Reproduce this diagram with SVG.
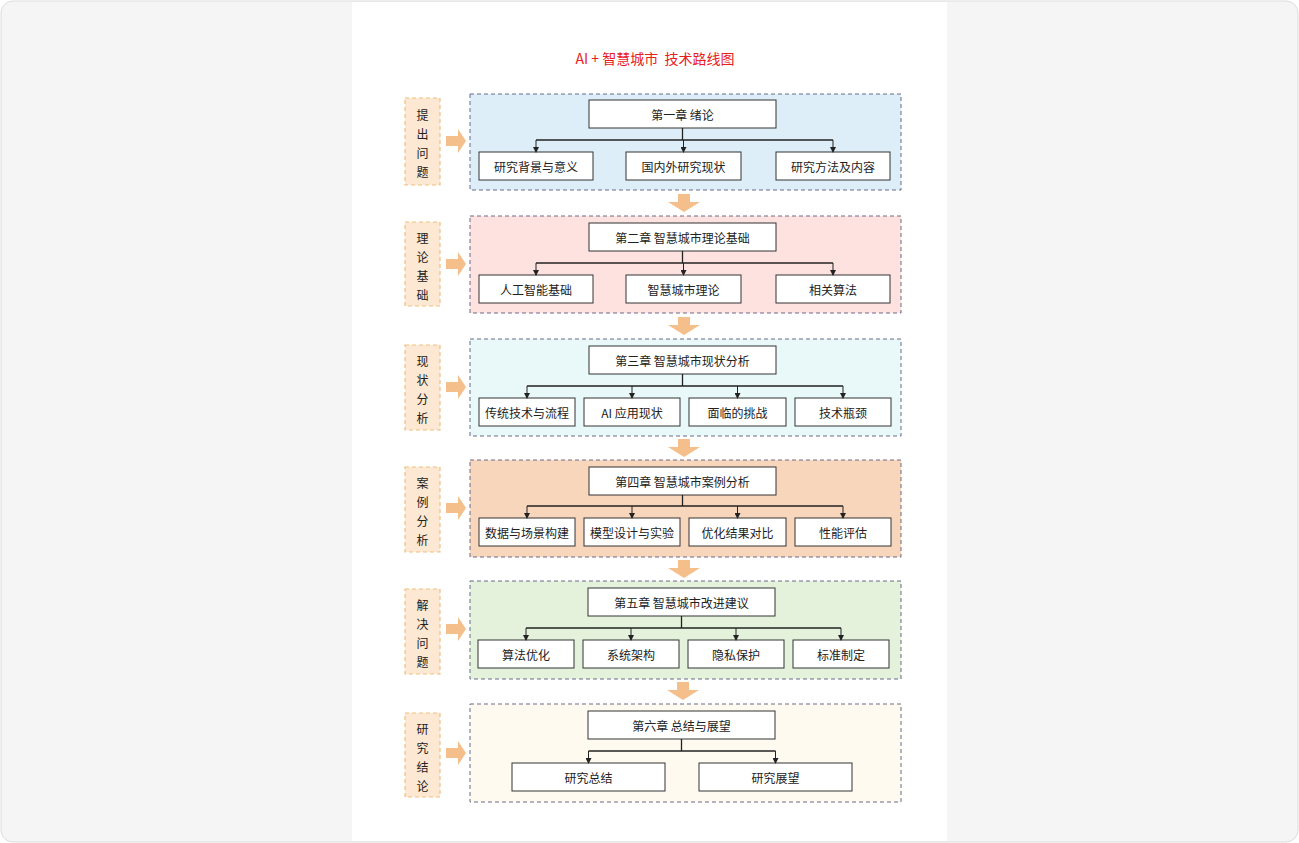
<svg xmlns="http://www.w3.org/2000/svg" width="1299" height="843" viewBox="0 0 1299 843">
<style>
text{font-family:"Noto Sans CJK SC","Liberation Sans",sans-serif;font-size:12px;fill:#222;text-anchor:middle;dominant-baseline:central}
.sec{stroke:#6a6a8a;stroke-dasharray:4 3;stroke-width:1}
.lab{fill:#fde9d3;stroke:#f0bf7f;stroke-dasharray:4 3;stroke-width:1.2}
.box{fill:#fff;stroke:#333;stroke-width:1}
.c{fill:none;stroke:#222;stroke-width:1;marker-end:url(#ah)}
.cl{fill:none;stroke:#222;stroke-width:1.3}
.arr{fill:#f5bf8b}
</style>
<defs><marker id="ah" markerWidth="6" markerHeight="6" refX="5" refY="3" orient="auto" markerUnits="userSpaceOnUse"><path d="M0,0L6,3L0,6z" fill="#222"/></marker></defs>
<rect x="1" y="1" width="1297" height="841" rx="12" fill="#f5f5f5" stroke="#ddd"/>
<rect x="352" y="2" width="595" height="839" fill="#fff"/>
<text x="655" y="58" style="fill:#e8201c;font-size:14px">AI + 智慧城市&#160; 技术路线图</text>

<g id="s1">
<rect x="470" y="94" width="431" height="96" fill="#ddeef9" class="sec"/>
<rect x="405" y="98" width="35" height="87" class="lab"/>
<text x="422.5" y="114">提</text><text x="422.5" y="133">出</text><text x="422.5" y="152">问</text><text x="422.5" y="171">题</text>
<path class="arr" d="M446,136h12v-7l8,12l-8,12v-7h-12z"/>
<rect x="589" y="100" width="187" height="28" class="box"/><text x="682.5" y="114">第一章 绪论</text>
<rect x="479" y="152" width="114" height="28" class="box"/><text x="536" y="166">研究背景与意义</text>
<rect x="626" y="152" width="115" height="28" class="box"/><text x="683.5" y="166">国内外研究现状</text>
<rect x="776" y="152" width="114" height="28" class="box"/><text x="833" y="166">研究方法及内容</text>
</g>
<g id="s2">
<rect x="470" y="216" width="431" height="97" fill="#fde2df" class="sec"/>
<rect x="405" y="222" width="35" height="84" class="lab"/>
<text x="422.5" y="237">理</text><text x="422.5" y="256">论</text><text x="422.5" y="275">基</text><text x="422.5" y="294">础</text>
<path class="arr" d="M446,259h12v-7l8,12l-8,12v-7h-12z"/>
<rect x="589" y="223" width="187" height="28" class="box"/><text x="682.5" y="237">第二章 智慧城市理论基础</text>
<rect x="479" y="275" width="114" height="28" class="box"/><text x="536" y="289">人工智能基础</text>
<rect x="626" y="275" width="115" height="28" class="box"/><text x="683.5" y="289">智慧城市理论</text>
<rect x="776" y="275" width="114" height="28" class="box"/><text x="833" y="289">相关算法</text>
</g>
<g id="s3">
<rect x="470" y="339" width="431" height="97" fill="#e9f8f8" class="sec"/>
<rect x="405" y="345" width="35" height="85" class="lab"/>
<text x="422.5" y="360">现</text><text x="422.5" y="379">状</text><text x="422.5" y="398">分</text><text x="422.5" y="417">析</text>
<path class="arr" d="M446,382h12v-7l8,12l-8,12v-7h-12z"/>
<rect x="589" y="346" width="187" height="28" class="box"/><text x="682.5" y="360">第三章 智慧城市现状分析</text>
<rect x="479" y="398" width="96" height="28" class="box"/><text x="527" y="412">传统技术与流程</text>
<rect x="584" y="398" width="96" height="28" class="box"/><text x="632" y="412">AI 应用现状</text>
<rect x="689" y="398" width="97" height="28" class="box"/><text x="737.5" y="412">面临的挑战</text>
<rect x="795" y="398" width="96" height="28" class="box"/><text x="843" y="412">技术瓶颈</text>
</g>
<g id="s4">
<rect x="470" y="460" width="431" height="97" fill="#f8d6bc" class="sec"/>
<rect x="405" y="467" width="35" height="85" class="lab"/>
<text x="422.5" y="482">案</text><text x="422.5" y="501">例</text><text x="422.5" y="520">分</text><text x="422.5" y="539">析</text>
<path class="arr" d="M446,503h12v-7l8,12l-8,12v-7h-12z"/>
<rect x="589" y="467" width="187" height="28" class="box"/><text x="682.5" y="481">第四章 智慧城市案例分析</text>
<rect x="479" y="518" width="96" height="28" class="box"/><text x="527" y="532">数据与场景构建</text>
<rect x="584" y="518" width="96" height="28" class="box"/><text x="632" y="532">模型设计与实验</text>
<rect x="689" y="518" width="97" height="28" class="box"/><text x="737.5" y="532">优化结果对比</text>
<rect x="795" y="518" width="96" height="28" class="box"/><text x="843" y="532">性能评估</text>
</g>
<g id="s5">
<rect x="470" y="581" width="431" height="98" fill="#e4f2dc" class="sec"/>
<rect x="405" y="589" width="35" height="85" class="lab"/>
<text x="422.5" y="604">解</text><text x="422.5" y="623">决</text><text x="422.5" y="642">问</text><text x="422.5" y="661">题</text>
<path class="arr" d="M446,624h12v-7l8,12l-8,12v-7h-12z"/>
<rect x="588" y="588" width="187" height="28" class="box"/><text x="681.5" y="602">第五章 智慧城市改进建议</text>
<rect x="478" y="640" width="96" height="28" class="box"/><text x="526" y="654">算法优化</text>
<rect x="583" y="640" width="96" height="28" class="box"/><text x="631" y="654">系统架构</text>
<rect x="688" y="640" width="96" height="28" class="box"/><text x="736" y="654">隐私保护</text>
<rect x="793" y="640" width="96" height="28" class="box"/><text x="841" y="654">标准制定</text>
</g>
<g id="s6">
<rect x="470" y="704" width="431" height="98" fill="#fefaef" class="sec"/>
<rect x="405" y="713" width="35" height="84" class="lab"/>
<text x="422.5" y="728">研</text><text x="422.5" y="747">究</text><text x="422.5" y="766">结</text><text x="422.5" y="785">论</text>
<path class="arr" d="M446,748h12v-7l8,12l-8,12v-7h-12z"/>
<rect x="588" y="711" width="187" height="28" class="box"/><text x="681.5" y="725">第六章 总结与展望</text>
<rect x="512" y="763" width="153" height="28" class="box"/><text x="588.5" y="777">研究总结</text>
<rect x="699" y="763" width="153" height="28" class="box"/><text x="775.5" y="777">研究展望</text>
</g>
<g id="connectors">
<path class="arr" d="M678,194h12v8h10l-16,10l-16,-10h10z"/>
<path class="arr" d="M678,317h12v8h10l-16,10l-16,-10h10z"/>
<path class="arr" d="M678,439h12v8h10l-16,10l-16,-10h10z"/>
<path class="arr" d="M678,560h12v8h10l-16,10l-16,-10h10z"/>
<path class="arr" d="M677,682h12v8h10l-16,10l-16,-10h10z"/>
<path class="cl" d="M682.5,128v12"/><path class="cl" d="M536,140H833"/>
<path class="c" d="M536,140v12"/><path class="c" d="M683.5,140v12"/><path class="c" d="M833,140v12"/>
<path class="cl" d="M682.5,251v12"/><path class="cl" d="M536,263H833"/>
<path class="c" d="M536,263v12"/><path class="c" d="M683.5,263v12"/><path class="c" d="M833,263v12"/>
<path class="cl" d="M682.5,374v12"/><path class="cl" d="M527,386H843"/>
<path class="c" d="M527,386v12"/><path class="c" d="M632,386v12"/><path class="c" d="M737.5,386v12"/><path class="c" d="M843,386v12"/>
<path class="cl" d="M682.5,495v11"/><path class="cl" d="M527,506H843"/>
<path class="c" d="M527,506v12"/><path class="c" d="M632,506v12"/><path class="c" d="M737.5,506v12"/><path class="c" d="M843,506v12"/>
<path class="cl" d="M681.5,616v12"/><path class="cl" d="M526,628H841"/>
<path class="c" d="M526,628v12"/><path class="c" d="M631,628v12"/><path class="c" d="M736,628v12"/><path class="c" d="M841,628v12"/>
<path class="cl" d="M681.5,739v12"/><path class="cl" d="M588.5,751H775.5"/>
<path class="c" d="M588.5,751v12"/><path class="c" d="M775.5,751v12"/>
</g>
</svg>
